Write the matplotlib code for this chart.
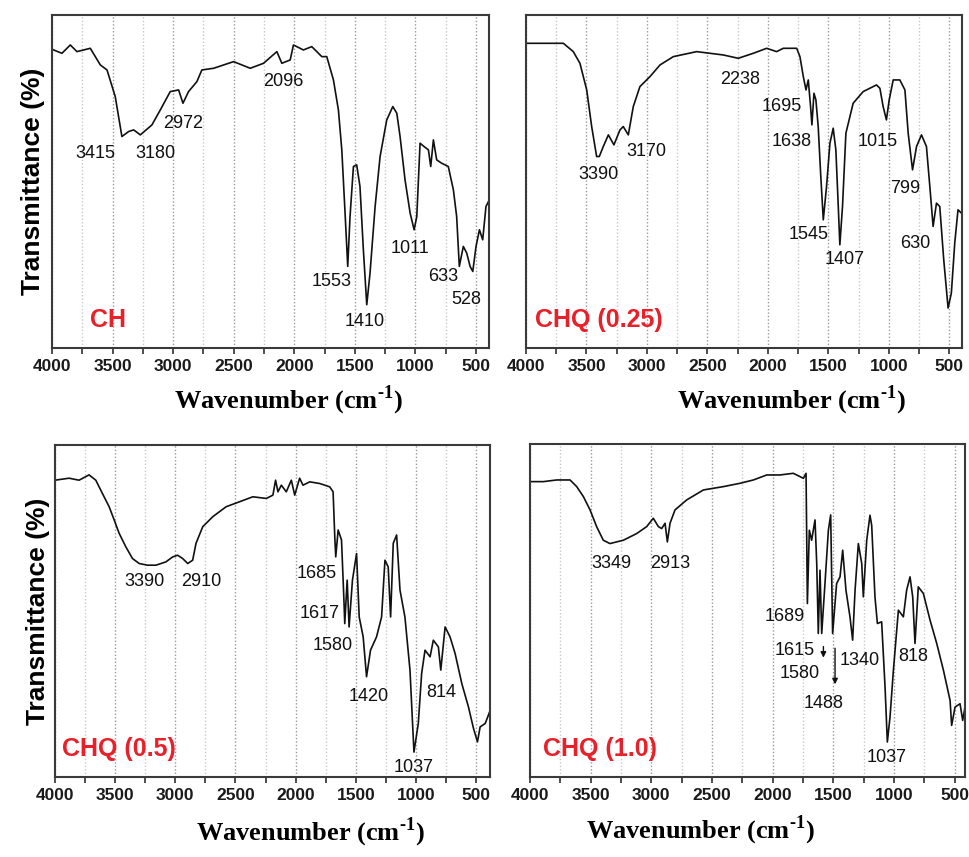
import matplotlib
matplotlib.use('Agg')
import matplotlib.pyplot as plt
from matplotlib.ticker import MultipleLocator

plt.rcParams['font.family'] = ['Liberation Sans', 'DejaVu Sans']
plt.rcParams['mathtext.fontset'] = 'custom'
plt.rcParams['mathtext.rm'] = 'Liberation Serif:bold'
plt.rcParams['mathtext.bf'] = 'Liberation Serif:bold'

# ---- data (wavenumber cm-1, transmittance in arb. %) ----
ch_wn = [4000, 3918, 3849, 3794, 3684, 3601, 3546, 3478, 3423, 3368, 3326, 3271, 3175,
         3106, 3024, 2955, 2919, 2873, 2804, 2763, 2666, 2501, 2364, 2254, 2144, 2103,
         2034, 2007, 1925, 1856, 1773, 1732, 1677, 1636, 1608, 1581, 1559, 1540, 1512,
         1485, 1458, 1430, 1402, 1375, 1333, 1292, 1237, 1187, 1154, 1127, 1086, 1044,
         1011, 989, 962, 929, 893, 874, 852, 825, 784, 729, 687, 660, 638, 605, 577,
         549, 527, 500, 472, 445, 418, 390]
ch_t = [89.7, 88.5, 91, 89, 90, 85, 83.5, 75.5, 63.5, 65, 65.5, 64, 67,
        71.5, 77, 77.5, 73.5, 77, 80, 83.5, 84, 86, 84, 85.5, 89, 85.5,
        86.5, 91, 89.5, 90.5, 87.5, 87.5, 80.5, 71.5, 59.5, 40.5, 24.5, 39.5, 54.5,
        55, 48.5, 29.5, 13, 22.5, 42.5, 57.5, 68.5, 72.5, 70.5, 63.5, 50.5, 40.5,
        35.5, 39.5, 61.5, 60.5, 59.5, 54.5, 62.5, 56.5, 55.5, 54.5, 47.5, 39.5, 24.5, 30.5, 28.5,
        24.5, 23, 30.5, 35.5, 32.5, 42.5, 44.5]

q25_wn = [4000, 3774, 3691, 3609, 3554, 3498, 3457, 3416, 3394, 3361, 3319, 3273, 3223,
          3196, 3154, 3113, 3058, 2975, 2892, 2782, 2589, 2369, 2245, 2121, 2010, 1928,
          1873, 1762, 1735, 1707, 1685, 1666, 1647, 1636, 1619, 1603, 1584, 1564, 1542,
          1515, 1487, 1460, 1438, 1418, 1405, 1383, 1355, 1295, 1212, 1102, 1074, 1047,
          1020, 997, 964, 909, 867, 840, 804, 771, 730, 689, 661, 634, 606, 579, 546,
          510, 483, 455, 428, 400]
q25_t = [91.5, 91.5, 91.5, 89, 85.5, 77.5, 66.5, 57.5, 57.5, 60.5, 64, 61, 65.5,
         66.5, 64, 72.5, 78.5, 81.5, 85, 87.5, 89, 88, 87, 88.5, 90, 89,
         90, 90, 87.5, 81.5, 77.5, 80.5, 72.5, 67, 76.5, 74.5, 66.5, 52.5, 38.5,
         48.5, 61.5, 66, 59.5, 42.5, 31, 42.5, 64.5, 73.5, 77, 79, 78, 72.5,
         68.5, 74.5, 80.5, 80.5, 77.5, 64.5, 53.5, 60.5, 64, 60.5, 48.5, 36.5, 43.5, 42.5, 26.5,
         12, 16.5, 31.5, 41.5, 40.5]

q05_wn = [4000, 3883, 3800, 3717, 3661, 3606, 3550, 3508, 3467, 3411, 3356, 3300, 3231,
          3161, 3078, 3022, 2981, 2939, 2897, 2856, 2828, 2772, 2689, 2578, 2467, 2356,
          2244, 2189, 2167, 2147, 2119, 2078, 2036, 2008, 1967, 1939, 1883, 1800, 1717,
          1689, 1675, 1667, 1647, 1619, 1600, 1592, 1572, 1556, 1528, 1494, 1472, 1439,
          1411, 1378, 1328, 1286, 1258, 1231, 1211, 1189, 1161, 1133, 1092, 1050, 1017,
          981, 953, 925, 883, 856, 814, 794, 758, 717, 675, 619, 564, 522, 489, 467,
          425, 383]
q05_t = [89.4, 90, 89.4, 91, 89.4, 85.4, 81.4, 77.4, 73.4, 69.3, 65.8, 64.3, 63.8,
         63.8, 64.8, 66.3, 66.8, 65.8, 64.3, 65.3, 70.4, 75.4, 78.4, 81.4, 82.9, 84.4,
         83.9, 84.9, 89.4, 85.9, 87.9, 85.9, 89.4, 84.9, 90, 87.9, 88.9, 88.4, 87.4,
         85.9, 72.4, 66.3, 74.4, 71.4, 54.3, 46.2, 59.3, 45.2, 59.3, 67.3, 48.2, 42.2,
         30.2, 38.2, 42.2, 48.2, 65.3, 63.3, 48.2, 70.4, 72.9, 56.3, 48.2, 32.2, 7.5,
         16.1, 31.2, 38.2, 36.2, 41.2, 39.2, 32.2, 45.2, 42.2, 37.2, 28.1, 21.1, 14.6, 10.6, 15.1,
         16.1, 20.1]

q10_wn = [4000, 3890, 3780, 3670, 3615, 3560, 3505, 3451, 3396, 3341, 3231, 3121, 3038,
          2984, 2942, 2915, 2887, 2868, 2846, 2805, 2709, 2571, 2407, 2269, 2159, 2049,
          1940, 1830, 1747, 1725, 1714, 1698, 1679, 1651, 1637, 1624, 1610, 1596, 1569,
          1541, 1522, 1506, 1473, 1445, 1423, 1396, 1363, 1341, 1321, 1294, 1266, 1253,
          1225, 1198, 1184, 1157, 1137, 1102, 1074, 1055, 1033, 1005, 964, 923, 896, 868,
          846, 827, 800, 758, 703, 648, 593, 538, 525, 497, 456, 434, 415]
q10_t = [88.7, 88.7, 89.2, 89.2, 87.2, 84.2, 80.2, 75.2, 71.1, 70.1, 71.1, 73.1, 75.2,
         77.7, 75.2, 74.6, 76.2, 70.6, 76.2, 80.2, 83.2, 86.2, 87.2, 88.2, 89.2, 90.7,
         90.7, 91.2, 89.7, 91.2, 52.1, 74.1, 71.1, 77.2, 64.1, 43.1, 62.1, 43.1, 58.1,
         74.1, 78.7, 43.1, 58.1, 60.1, 68.1, 56.1, 48.1, 41.1, 56.1, 70.1, 64.1, 54.1,
         71.1, 78.6, 75.6, 54.1, 46.1, 46.6, 27.1, 10.5, 18, 32.1, 50.1, 48.1, 56.1, 60.1,
         54.1, 40.1, 57.1, 55.1, 47.1, 40.1, 32.1, 23, 15.5, 21, 22, 17, 21]

# peak labels: (text, wavenumber, transmittance)
ch_labels = [('3415', 3643, 58.5), ('3180', 3148, 58.5), ('2972', 2914, 67.5),
             ('2096', 2089, 80), ('1553', 1690, 20), ('1410', 1415, 8),
             ('1011', 1044, 30), ('633', 769, 21.5), ('528', 577, 14.5)]
q25_labels = [('3390', 3402, 52), ('3170', 3002, 59), ('2238', 2231, 80.5),
              ('1695', 1887, 72.5), ('1638', 1807, 62), ('1545', 1666, 34),
              ('1407', 1363, 26.5), ('1015', 1088, 62), ('799', 867, 48), ('630', 784, 31.5)]
q05_labels = [('3390', 3258, 58.8), ('2910', 2786, 58.8), ('1685', 1828, 61.3),
              ('1617', 1800, 49.2), ('1580', 1689, 39.7), ('1420', 1397, 24.1),
              ('814', 786, 25.6), ('1037', 1022, 3)]
q10_labels = [('3349', 3327, 64.1), ('2913', 2846, 64.1), ('1689', 1898, 48.1),
              ('1615', 1816, 38.1), ('1580', 1775, 31.1), ('1488', 1582, 22),
              ('1340', 1280, 35.1), ('818', 841, 36.1), ('1037', 1060, 6)]
q10_arrows = [(1582, 40, 35), (1486, 39.5, 27)]

names = ['CH', 'CHQ (0.25)', 'CHQ (0.5)', 'CHQ (1.0)']

fig = plt.figure(figsize=(9.69, 8.57), dpi=100)
W, H = 969.0, 857.0


def make_ax(l, r, t, b):
    return fig.add_axes([l / W, 1 - b / H, (r - l) / W, (b - t) / H])


def setup(ax, right_lim):
    ax.set_xlim(4000, right_lim)
    ax.set_ylim(0, 100)
    ax.xaxis.set_major_locator(MultipleLocator(500))
    ax.xaxis.set_minor_locator(MultipleLocator(250))
    ax.set_yticks([])
    ax.grid(True, which='major', axis='x', ls=(0, (1, 1.5)), color='#9a9a9a', lw=1.0)
    ax.grid(True, which='minor', axis='x', ls=(0, (1, 1.5)), color='#c8c8c8', lw=1.0)
    ax.tick_params(axis='x', which='both', direction='out', length=4, width=1.2,
                   color='#303030', pad=4)
    ax.tick_params(axis='x', labelsize=12.5, labelcolor='#1a1a1a')
    for lab in ax.get_xticklabels():
        lab.set_fontweight('bold')
    for s in ax.spines.values():
        s.set_color('#3a3a3a')
        s.set_linewidth(1.5)


panels = [
    ((52, 489, 15, 348), 393, ch_wn, ch_t, ch_labels, 3684, (288, 400), (33, 181)),
    ((526, 962, 15, 348), 395, q25_wn, q25_t, q25_labels, 3926, (791, 400), None),
    ((55, 490, 445, 777), 385, q05_wn, q05_t, q05_labels, 3939, (310, 832), (38, 611)),
    ((530, 965, 444, 777), 415, q10_wn, q10_t, q10_labels, 3890, (700, 830), None),
]

for i, (box, rlim, wn, t, labels, name_x, xl_pos, yl_pos) in enumerate(panels):
    ax = make_ax(*box)
    setup(ax, rlim)
    ax.plot(wn, t, color='#111111', lw=1.2)
    for txt, x, y in labels:
        ax.text(x, y, txt, ha='center', va='center', fontsize=13, color='#111111')
    ax.text(name_x, 8.5, names[i], ha='left', va='center', fontsize=18,
            fontweight='bold', color='#e8202a')
    if i == 3:
        for x, y0, y1 in q10_arrows:
            ax.annotate('', xy=(x, y1), xytext=(x, y0),
                        arrowprops=dict(arrowstyle='-|>', color='#111111', lw=1.0,
                                        mutation_scale=8))
    fig.text(xl_pos[0] / W, 1 - xl_pos[1] / H, r'Wavenumber (cm$^{\text{-1}}$)',
             ha='center', va='center', fontsize=19, fontweight='bold',
             family='Liberation Serif')
    if yl_pos is not None:
        fig.text(yl_pos[0] / W, 1 - yl_pos[1] / H, 'Transmittance (%)', rotation=90,
                 ha='center', va='center', fontsize=19, fontweight='bold')

fig.savefig('out.png', dpi=100)
